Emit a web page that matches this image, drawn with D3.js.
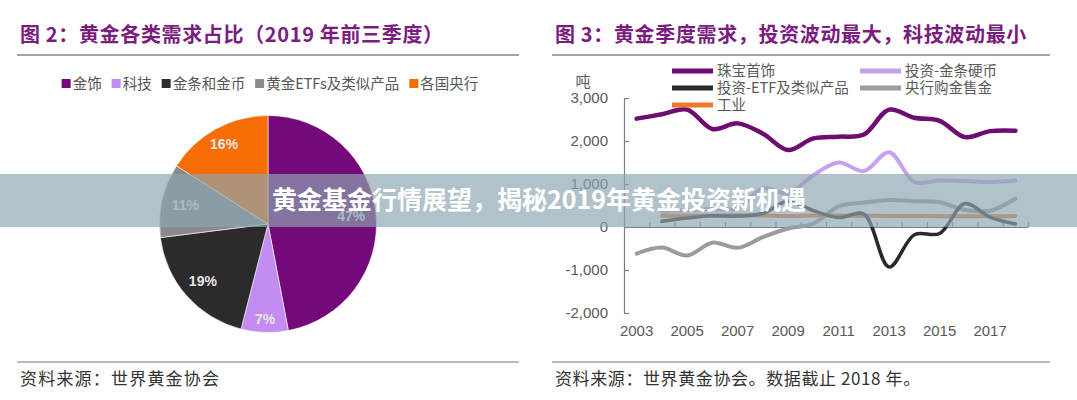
<!DOCTYPE html>
<html><head><meta charset="utf-8">
<script src="https://cdn.jsdelivr.net/npm/d3@7"></script>
<style>body{margin:0;background:#fff;} svg{display:block;}</style>
</head><body><svg id="c" width="1077" height="400"></svg>
<script>
// ---------- data: pie (Figure 2) ----------
const pieCategories = ["金饰", "科技", "金条和金币", "黄金ETFs及类似产品", "各国央行"];
const pieValues = [47, 7, 19, 11, 16];
const pieLabels = ["47%", "7%", "19%", "11%", "16%"];
const pieColors = ["#74097a", "#c28cf0", "#2c2a2d", "#8a8a8a", "#f66d05"];

// ---------- data: lines (Figure 3) ----------
const years = ["2003","2004","2005","2006","2007","2008","2009","2010","2011","2012","2013","2014","2015","2016","2017","2018"];
const xTickLabels = ["2003","2005","2007","2009","2011","2013","2015","2017"];
const yTickValues = [-2000, -1000, 0, 1000, 2000, 3000];
const yTickLabels = ["-2,000", "-1,000", "0", "1,000", "2,000", "3,000"];
const seriesNames = ["珠宝首饰", "投资-金条硬币", "投资-ETF及类似产品", "央行购金售金", "工业"];
const seriesColors = ["#6e0c72", "#c6a2ee", "#2a2a2a", "#9b9b9b", "#ec7a2a"];
const jewelry      = [2520, 2620, 2730, 2280, 2410, 2170, 1790, 2060, 2100, 2150, 2730, 2540, 2470, 2090, 2230, 2240];
const barCoin      = [null, 352, 390, 418, 437, 905, 784, 1205, 1500, 1300, 1740, 1050, 1080, 1070, 1045, 1080];
const etf          = [null, 133, 208, 260, 253, 321, 600, 382, 220, 300, -930, -180, -150, 545, 230, 69];
const centralBanks = [-620, -479, -663, -365, -484, -235, -34, 79, 481, 569, 629, 601, 577, 395, 379, 656];
const technology   = [null, 260, 265, 270, 275, 270, 255, 270, 265, 262, 258, 255, 252, 250, 252, 250];

const svg = d3.select("#c");
const CJK = "'Noto Sans CJK SC', sans-serif";
const LAT = "'Liberation Sans', Arial, sans-serif";

// ---------- titles & rules ----------
function title(x, txt) {
  svg.append("text").attr("x", x).attr("y", 42).text(txt)
    .attr("font-family", CJK).attr("font-weight", "bold").attr("font-size", 20)
    .attr("letter-spacing", 0.65).attr("fill", "#7a1c80");
}
title(20, "图 2：黄金各类需求占比（2019 年前三季度）");
title(555, "图 3：黄金季度需求，投资波动最大，科技波动最小");
[[17, 519], [552, 1050]].forEach(([a, b]) => {
  svg.append("line").attr("x1", a).attr("x2", b).attr("y1", 55).attr("y2", 55).attr("stroke", "#a3a3a3").attr("stroke-width", 2);
  svg.append("line").attr("x1", a).attr("x2", b).attr("y1", 362).attr("y2", 362).attr("stroke", "#a3a3a3").attr("stroke-width", 1.5);
});
svg.append("text").attr("x", 20).attr("y", 385).text("资料来源：世界黄金协会")
  .attr("font-family", CJK).attr("font-size", 17).attr("fill", "#333").attr("letter-spacing", 1.2);
svg.append("text").attr("x", 555).attr("y", 385).text("资料来源：世界黄金协会。数据截止 2018 年。")
  .attr("font-family", CJK).attr("font-size", 17).attr("fill", "#333").attr("letter-spacing", 0.6);

// ---------- pie legend ----------
const lg = svg.append("g");
let lx = 0;
pieCategories.forEach((c, i) => {
  const g = lg.append("g").attr("transform", `translate(${lx},0)`);
  g.append("rect").attr("x", 0).attr("y", 79).attr("width", 9).attr("height", 9).attr("fill", pieColors[i]);
  const t = g.append("text").attr("x", 11).attr("y", 89).text(c)
    .attr("font-family", CJK).attr("font-size", 14.5).attr("fill", "#555");
  lx += 11 + t.node().getComputedTextLength() + 10;
});
lx -= 10;
lg.attr("transform", `translate(${270 - lx / 2},0)`);

// ---------- pie ----------
const cx = 268, cy = 224, R = 108.5;
const pie = d3.pie().sort(null).value(d => d)(pieValues);
const arc = d3.arc().innerRadius(0).outerRadius(R);
const pg = svg.append("g").attr("transform", `translate(${cx},${cy})`);
pg.selectAll("path").data(pie).join("path")
  .attr("d", arc).attr("fill", (d, i) => pieColors[i])
  .attr("stroke", "#fff").attr("stroke-width", 0.6);
const labelR = [0.77, 0.88, 0.8, 0.78, 0.84];
pg.selectAll("text").data(pie).join("text")
  .attr("transform", (d, i) => {
    const a = d3.arc().innerRadius(R * labelR[i]).outerRadius(R * labelR[i]);
    return `translate(${a.centroid(d)})`;
  })
  .attr("text-anchor", "middle").attr("dy", "0.35em")
  .attr("font-family", LAT).attr("font-weight", "bold").attr("font-size", 14)
  .attr("fill", "#e6e6e6").text((d, i) => pieLabels[i]);

// ---------- line chart ----------
const x = d3.scaleBand().domain(years).range([624, 1028]);
const y = d3.scaleLinear().domain([-2000, 3000]).range([313, 98]);
const xb = d3.scaleLinear().domain([0, years.length]).range(x.range());

const ya = svg.append("g").attr("transform", `translate(${x.range()[0]},0)`)
  .call(d3.axisLeft(y).tickValues(yTickValues).tickFormat((d, i) => yTickLabels[i])
    .tickSizeInner(-5).tickSizeOuter(0).tickPadding(16));
ya.selectAll("text").attr("font-family", LAT).attr("font-size", 15).attr("fill", "#595959");
ya.selectAll("line,path").attr("stroke", "#7f7f7f").attr("stroke-width", 1.2);

const za = svg.append("g").attr("transform", `translate(0,${y(0)})`)
  .call(d3.axisBottom(xb).tickValues(d3.range(years.length + 1)).tickFormat("").tickSizeInner(-5).tickSizeOuter(0));
za.selectAll("line,path").attr("stroke", "#7f7f7f").attr("stroke-width", 1.2);

const xl = svg.append("g").attr("transform", `translate(0,${y(-2000)})`)
  .call(d3.axisBottom(x).tickValues(xTickLabels).tickSize(0).tickPadding(12));
xl.select(".domain").remove();
xl.selectAll("text").attr("font-family", LAT).attr("font-size", 15).attr("fill", "#595959");

svg.append("text").attr("x", 583).attr("y", 87).attr("text-anchor", "middle").text("吨")
  .attr("font-family", CJK).attr("font-size", 15).attr("fill", "#595959");

const line = d3.line()
  .defined(d => d != null)
  .x((d, i) => x(years[i]) + x.bandwidth() / 2)
  .y(d => y(d))
  .curve(d3.curveCatmullRom.alpha(0.5));
const lineData = [
  [barCoin, 1, 4],
  [centralBanks, 3, 4],
  [technology, 4, 4],
  [etf, 2, 3.5],
  [jewelry, 0, 4.5]
];
lineData.forEach(([vals, ci, w]) => {
  svg.append("path").attr("d", line(vals)).attr("fill", "none")
    .attr("stroke", seriesColors[ci]).attr("stroke-width", w)
    .attr("stroke-linejoin", "round").attr("stroke-linecap", "round");
});

const legPos = [[672, 71], [860, 71], [672, 88], [860, 88], [672, 105]];
seriesNames.forEach((n, i) => {
  const [px, py] = legPos[i];
  svg.append("line").attr("x1", px).attr("x2", px + 41).attr("y1", py).attr("y2", py)
    .attr("stroke", seriesColors[i]).attr("stroke-width", 5);
  svg.append("text").attr("x", px + 45).attr("y", py + 5).text(n)
    .attr("font-family", CJK).attr("font-size", 14.5).attr("fill", "#595959");
});

// ---------- overlay banner ----------
svg.append("rect").attr("x", 0).attr("y", 174).attr("width", 1077).attr("height", 53)
  .attr("fill", "rgb(140,165,177)").attr("fill-opacity", 0.68);
svg.append("text").attr("x", 539).attr("y", 209).attr("text-anchor", "middle")
  .text("黄金基金行情展望，揭秘2019年黄金投资新机遇")
  .attr("font-family", CJK).attr("font-weight", "bold").attr("font-size", 25).attr("fill", "#fff");
</script></body></html>
